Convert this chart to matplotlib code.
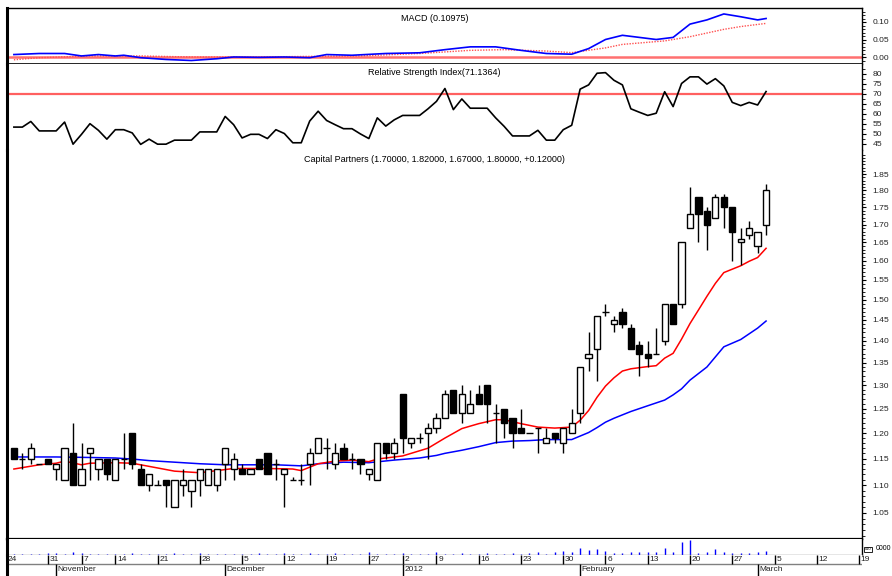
import matplotlib
matplotlib.use("Agg")
import matplotlib.pyplot as plt
from matplotlib.ticker import FixedLocator, FixedFormatter, NullFormatter, NullLocator

plt.rcParams['font.family'] = ['Liberation Sans', 'DejaVu Sans']

# ---------------- data ----------------
opens = [1.17, 1.15, 1.15, 1.14, 1.15, 1.13, 1.11, 1.16, 1.10, 1.16,
         1.13, 1.15, 1.11, 1.15, 1.20, 1.13, 1.10, 1.10, 1.11, 1.06,
         1.10, 1.09, 1.11, 1.10, 1.10, 1.14, 1.13, 1.13, 1.12, 1.15,
         1.16, 1.14, 1.12, 1.11, 1.11, 1.14, 1.16, 1.17, 1.14, 1.17,
         1.15, 1.15, 1.12, 1.11, 1.18, 1.16, 1.28, 1.18, 1.19, 1.20,
         1.21, 1.23, 1.29, 1.24, 1.24, 1.28, 1.30, 1.24, 1.25, 1.23,
         1.21, 1.20, 1.21, 1.18, 1.20, 1.18, 1.20, 1.24, 1.36, 1.38,
         1.47, 1.44, 1.47, 1.43, 1.39, 1.37, 1.37, 1.40, 1.49, 1.49,
         1.69, 1.78, 1.74, 1.72, 1.78, 1.75, 1.65, 1.67, 1.64, 1.70]
highs = [1.17, 1.16, 1.18, 1.14, 1.15, 1.14, 1.17, 1.22, 1.18, 1.17,
         1.15, 1.15, 1.15, 1.20, 1.20, 1.14, 1.12, 1.11, 1.11, 1.11,
         1.13, 1.11, 1.13, 1.13, 1.13, 1.17, 1.16, 1.14, 1.13, 1.15,
         1.16, 1.15, 1.13, 1.115, 1.14, 1.17, 1.19, 1.19, 1.18, 1.18,
         1.16, 1.15, 1.13, 1.18, 1.18, 1.19, 1.28, 1.19, 1.20, 1.22,
         1.24, 1.29, 1.29, 1.30, 1.29, 1.30, 1.30, 1.26, 1.25, 1.23,
         1.25, 1.20, 1.21, 1.21, 1.20, 1.21, 1.25, 1.34, 1.42, 1.46,
         1.49, 1.46, 1.48, 1.44, 1.40, 1.40, 1.43, 1.49, 1.49, 1.65,
         1.81, 1.78, 1.75, 1.79, 1.79, 1.75, 1.69, 1.71, 1.68, 1.82]
lows = [1.15, 1.13, 1.14, 1.14, 1.14, 1.11, 1.11, 1.10, 1.10, 1.11,
        1.11, 1.11, 1.11, 1.13, 1.13, 1.10, 1.09, 1.10, 1.06, 1.06,
        1.08, 1.06, 1.08, 1.10, 1.09, 1.11, 1.11, 1.12, 1.12, 1.13,
        1.12, 1.11, 1.06, 1.11, 1.10, 1.10, 1.16, 1.13, 1.13, 1.15,
        1.13, 1.12, 1.11, 1.11, 1.15, 1.15, 1.16, 1.17, 1.18, 1.15,
        1.20, 1.23, 1.24, 1.22, 1.24, 1.26, 1.22, 1.18, 1.19, 1.17,
        1.20, 1.20, 1.16, 1.18, 1.18, 1.16, 1.20, 1.22, 1.33, 1.31,
        1.46, 1.42, 1.43, 1.38, 1.32, 1.34, 1.37, 1.39, 1.44, 1.48,
        1.69, 1.65, 1.63, 1.72, 1.69, 1.60, 1.59, 1.66, 1.62, 1.67]
closes = [1.15, 1.15, 1.17, 1.14, 1.14, 1.14, 1.17, 1.10, 1.13, 1.17,
          1.15, 1.12, 1.15, 1.15, 1.14, 1.10, 1.12, 1.10, 1.10, 1.11,
          1.11, 1.11, 1.13, 1.13, 1.13, 1.17, 1.15, 1.12, 1.13, 1.13,
          1.12, 1.14, 1.13, 1.11, 1.11, 1.16, 1.19, 1.17, 1.16, 1.15,
          1.15, 1.14, 1.13, 1.18, 1.16, 1.18, 1.19, 1.19, 1.19, 1.21,
          1.23, 1.28, 1.24, 1.28, 1.26, 1.26, 1.26, 1.24, 1.22, 1.20,
          1.20, 1.20, 1.21, 1.19, 1.19, 1.21, 1.22, 1.34, 1.37, 1.46,
          1.47, 1.45, 1.44, 1.38, 1.37, 1.36, 1.37, 1.49, 1.44, 1.65,
          1.73, 1.73, 1.70, 1.78, 1.75, 1.68, 1.66, 1.69, 1.68, 1.80]

ma_short_idx = [0, 3, 5, 6, 8, 9, 12, 14, 16, 19, 22, 24, 26, 30, 33, 34, 36, 38, 40,
                42, 43, 46, 49, 51, 53, 55, 57, 58, 60, 62, 64, 66, 67, 68, 69, 70,
                71, 72, 73, 75, 76, 77, 78, 79, 80, 81, 82, 83, 84, 85, 86, 87, 88, 89]
ma_short_val = [1.130, 1.138, 1.141, 1.145, 1.138, 1.141, 1.142, 1.141, 1.135, 1.126,
                1.123, 1.127, 1.131, 1.131, 1.130, 1.127, 1.140, 1.145, 1.147, 1.144,
                1.149, 1.155, 1.170, 1.190, 1.209, 1.219, 1.227, 1.227, 1.219, 1.212,
                1.210, 1.212, 1.226, 1.246, 1.274, 1.298, 1.316, 1.331, 1.336, 1.341,
                1.343, 1.360, 1.371, 1.404, 1.441, 1.474, 1.508, 1.541, 1.569, 1.578,
                1.587, 1.599, 1.609, 1.634]

ma_long_idx = [0, 5, 9, 12, 14, 16, 19, 22, 25, 28, 31, 34, 36, 39, 42, 45, 48, 50,
               51, 53, 55, 57, 59, 61, 63, 66, 67, 68, 69, 70, 71, 72, 73, 75, 77,
               78, 79, 80, 82, 84, 86, 88, 89]
ma_long_val = [1.153, 1.153, 1.152, 1.151, 1.149, 1.146, 1.143, 1.140, 1.138, 1.138,
               1.138, 1.136, 1.140, 1.143, 1.142, 1.147, 1.151, 1.156, 1.160, 1.166,
               1.173, 1.181, 1.184, 1.185, 1.187, 1.187, 1.194, 1.201, 1.211, 1.222,
               1.230, 1.237, 1.244, 1.256, 1.268, 1.279, 1.292, 1.311, 1.340, 1.386,
               1.403, 1.430, 1.447]

macd_idx = [0, 3, 6, 8, 10, 12, 13, 15, 18, 21, 24, 26, 29, 32, 35, 37, 40, 44, 48,
            51, 54, 57, 60, 63, 66, 68, 70, 72, 76, 78, 80, 82, 84, 86, 88, 89]
macd_val = [0.007, 0.010, 0.010, 0.003, 0.007, 0.003, 0.005, -0.002, -0.007, -0.010,
            -0.005, 0.000, -0.001, 0.000, -0.002, 0.007, 0.005, 0.010, 0.012, 0.021,
            0.029, 0.029, 0.019, 0.010, 0.008, 0.024, 0.050, 0.062, 0.050, 0.056,
            0.094, 0.106, 0.123, 0.115, 0.106, 0.110]
signal_idx = [0, 3, 9, 15, 21, 29, 36, 41, 48, 54, 58, 63, 66, 70, 72, 77, 80, 84, 86, 89]
signal_val = [-0.008, -0.002, 0.003, 0.003, 0.000, 0.000, 0.002, 0.003, 0.010, 0.019,
              0.021, 0.017, 0.0125, 0.026, 0.036, 0.046, 0.058, 0.079, 0.087, 0.096]

rsi = [53.4, 53.4, 56.2, 51.5, 51.5, 51.5, 55.9, 44.9, 49.8, 55.1,
       51.8, 47.4, 52.1, 52.1, 50.5, 44.8, 47.4, 44.9, 44.9, 46.9,
       46.9, 46.9, 51.0, 51.0, 51.0, 58.7, 54.6, 48.0, 49.8, 49.8,
       47.7, 52.1, 50.2, 45.6, 45.6, 56.4, 61.3, 56.7, 54.6, 52.6,
       52.6, 50.0, 47.7, 58.0, 53.9, 57.0, 59.2, 59.2, 59.2, 62.5,
       66.2, 72.6, 62.1, 67.4, 62.8, 62.8, 62.8, 58.0, 53.8, 49.0,
       49.0, 49.0, 51.8, 46.9, 46.9, 52.1, 54.3, 72.3, 74.4, 80.2,
       80.5, 76.7, 74.4, 62.5, 60.8, 59.2, 60.3, 71.0, 63.6, 75.1,
       78.4, 78.4, 74.8, 77.5, 73.9, 65.7, 64.1, 65.7, 64.4, 71.1]

volume = [1, 1, 1, 1, 2, 2, 1, 3, 2, 1, 1, 1, 1, 1, 2, 1, 1, 1, 1, 2,
          1, 1, 2, 1, 1, 1, 1, 1, 1, 2, 1, 1, 2, 1, 1, 2, 1, 1, 2, 1,
          1, 1, 3, 1, 1, 1, 2, 1, 1, 1, 3, 1, 1, 2, 1, 1, 2, 1, 1, 2,
          1, 2, 3, 1, 3, 4, 3, 7, 5, 6, 4, 2, 2, 3, 3, 3, 3, 7, 3, 13,
          15, 2, 3, 6, 3, 2, 2, 2, 3, 4]

week_tick_idx = [-1, 4, 8, 12, 17, 22, 27, 32, 37, 42, 46, 50, 55, 60, 65, 70, 75, 80,
                 85, 90, 95, 100]
week_tick_lbl = ['24', '31', '7', '14', '21', '28', '5', '12', '19', '27', '2', '9',
                 '16', '23', '30', '6', '13', '20', '27', '5', '12', '19']
month_tick_idx = [5, 25, 46, 67, 88]
month_tick_lbl = ['November', 'December', '2012', 'February', 'March']

price_ticks = [1.05, 1.10, 1.15, 1.20, 1.25, 1.30, 1.35, 1.40, 1.45, 1.50,
               1.55, 1.60, 1.65, 1.70, 1.75, 1.80, 1.85]
price_tick_lbl = ['%.2f' % v for v in price_ticks]
macd_ticks = [0.00, 0.05, 0.10]
macd_tick_lbl = ['0.00', '0.05', '0.10']
rsi_ticks = [45, 50, 55, 60, 65, 70, 75, 80]
rsi_tick_lbl = [str(v) for v in rsi_ticks]

main_title = 'Capital Partners (1.70000, 1.82000, 1.67000, 1.80000, +0.12000)'
macd_title = 'MACD (0.10975)'
rsi_title = 'Relative Strength Index(71.1364)'

# ---------------- layout ----------------
W, H = 892, 576
fig = plt.figure(figsize=(W / 100, H / 100), dpi=100)
X0, X1 = 7, 862
XL = (-0.816, 100.35)


def add_ax(top, bottom):
    return fig.add_axes([X0 / W, 1 - bottom / H, (X1 - X0) / W, (bottom - top) / H])


ax_macd = add_ax(8, 64)
ax_rsi = add_ax(64, 150)
ax_main = add_ax(150, 539)
ax_vol = add_ax(539, 554.5)
ax_date = add_ax(554.5, 576)

FS = 6.5
LFS = 6.1
for ax in (ax_macd, ax_rsi, ax_main, ax_vol, ax_date):
    ax.set_xlim(*XL)
    ax.xaxis.set_major_locator(NullLocator())
    ax.set_facecolor('white')
    for s in ax.spines.values():
        s.set_color('black')
        s.set_linewidth(1.0)
    ax.spines['left'].set_linewidth(2.2)
    ax.yaxis.tick_right()
    ax.tick_params(axis='y', which='major', length=3.2, width=0.8, pad=4.5,
                   labelsize=LFS, colors='black', labelcolor='#222222')
    ax.tick_params(axis='y', which='minor', length=1.8, width=0.6)

# ---------------- MACD ----------------
ax_macd.set_ylim(-0.020, 0.140)
ax_macd.axhline(0.0, color='#ff7070', lw=1.8, zorder=1)
ax_macd.plot(signal_idx, signal_val, color='#ff5050', lw=1.0, ls=(0, (1, 1)), zorder=2)
ax_macd.plot(macd_idx, macd_val, color='#0000ff', lw=1.2, zorder=3)
ax_macd.yaxis.set_major_locator(FixedLocator(macd_ticks))
ax_macd.yaxis.set_major_formatter(FixedFormatter(macd_tick_lbl))
ax_macd.yaxis.set_minor_locator(FixedLocator([-0.01, 0.01, 0.02, 0.03, 0.04, 0.06,
                                              0.07, 0.08, 0.09, 0.11, 0.12, 0.13]))
ax_macd.spines['bottom'].set_linewidth(1.2)
ax_macd.text(0.5, 0.82, macd_title, transform=ax_macd.transAxes, ha='center',
             va='center', fontsize=FS)

# ---------------- RSI ----------------
ax_rsi.set_ylim(42, 84.8)
ax_rsi.axhline(70, color='#ff6060', lw=1.6, zorder=1)
ax_rsi.plot(range(len(rsi)), rsi, color='black', lw=1.2, zorder=3)
ax_rsi.yaxis.set_major_locator(FixedLocator(rsi_ticks))
ax_rsi.yaxis.set_major_formatter(FixedFormatter(rsi_tick_lbl))
ax_rsi.yaxis.set_minor_locator(FixedLocator([v + 2.5 for v in rsi_ticks]))
ax_rsi.spines['top'].set_visible(False)
ax_rsi.spines['bottom'].set_visible(False)
ax_rsi.text(0.5, 0.90, rsi_title, transform=ax_rsi.transAxes, ha='center',
            va='center', fontsize=FS)

# ---------------- main candles ----------------
ax_main.set_yscale('log')
ax_main.set_ylim(1.0053, 1.9257)
ax_main.set_xlim(*XL)
idx = list(range(len(opens)))
ax_main.vlines(idx, lows, highs, color='black', lw=1.0, zorder=3)
bottoms = [min(o, c) for o, c in zip(opens, closes)]
heights = [abs(c - o) for o, c in zip(opens, closes)]
faces = ['black' if c < o else 'white' for o, c in zip(opens, closes)]
ax_main.bar(idx, heights, bottom=bottoms, width=0.74, color=faces,
            edgecolor='black', linewidth=1.0, zorder=4)
ax_main.plot(ma_long_idx, ma_long_val, color='#0000ff', lw=1.1, zorder=2)
ax_main.plot(ma_short_idx, ma_short_val, color='#ff0000', lw=1.1, zorder=2)
ax_main.yaxis.set_major_locator(FixedLocator(price_ticks))
ax_main.yaxis.set_major_formatter(FixedFormatter(price_tick_lbl))
ax_main.yaxis.set_minor_locator(FixedLocator([1.01 + 0.01 * k for k in range(91)]))
ax_main.yaxis.set_minor_formatter(NullFormatter())
ax_main.spines['top'].set_visible(False)
ax_main.spines['bottom'].set_linewidth(1.6)
ax_main.text(0.5, 0.975, main_title, transform=ax_main.transAxes, ha='center',
             va='center', fontsize=FS)

# ---------------- volume ----------------
ax_vol.set_ylim(0, 15.5)
ax_vol.vlines(idx, 0, volume, color='#0000ff', lw=1.0)
ax_vol.yaxis.set_major_locator(NullLocator())
ax_vol.spines['top'].set_visible(False)
ax_vol.spines['bottom'].set_color('#808080')
fig.text(876 / W, 1 - 549 / H, '0000', fontsize=5.0, va='center', ha='left')
fig.text(865 / W, 1 - 549.5 / H, 'x10', fontsize=3.0, va='center', ha='left',
         bbox=dict(boxstyle='square,pad=0.15', fc='white', ec='black', lw=0.6))

# ---------------- date axis ----------------
ax_date.set_ylim(0, 1)
ax_date.yaxis.set_major_locator(NullLocator())
for s in ('top', 'bottom', 'right'):
    ax_date.spines[s].set_visible(False)
ax_date.axhline(0.58, color='#808080', lw=1.0)
ax_date.vlines(week_tick_idx, 0.58, 1.0, color='black', lw=1.0)
ax_date.vlines(month_tick_idx, 0.0, 0.58, color='black', lw=1.0)
for i, lbl in zip(week_tick_idx, week_tick_lbl):
    ax_date.text(i + 0.2, 0.79, lbl, fontsize=6, ha='left', va='center',
                 clip_on=False, color='#222222')
for i, lbl in zip(month_tick_idx, month_tick_lbl):
    ax_date.text(i + 0.2, 0.29, lbl, fontsize=6, ha='left', va='center',
                 clip_on=False, color='#222222')

fig.savefig('out.png', dpi=100)
